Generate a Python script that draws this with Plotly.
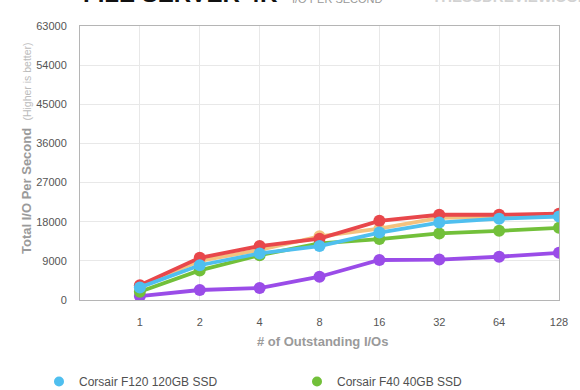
import plotly.graph_objects as go

categories = ["1", "2", "4", "8", "16", "32", "64", "128"]

f120_120gb = [2900, 8000, 10700, 12400, 15500, 17800, 18700, 19200]
f40_40gb = [1900, 6800, 10300, 13000, 14000, 15300, 15900, 16600]
orange_drive = [3200, 9000, 11500, 14650, 16400, 18900, 19100, 19300]
red_drive = [3400, 9700, 12400, 14100, 18200, 19600, 19600, 19850]
purple_drive = [900, 2300, 2750, 5350, 9200, 9300, 9950, 10850]

y_ticks = [0, 9000, 18000, 27000, 36000, 45000, 54000, 63000]

BLUE = "#4fbfef"
GREEN = "#72c03a"
ORANGE = "#f3c27f"
RED = "#e8474b"
PURPLE = "#9a4ce8"

fig = go.Figure()

def add_series(name, values, color):
    fig.add_trace(go.Scatter(
        x=categories, y=values, name=name, mode="lines+markers",
        line=dict(color=color, width=3.8),
        marker=dict(color=color, size=12),
        showlegend=False, hoverinfo="x+y+name",
    ))

add_series("Intel X25-M G2 160GB SSD", purple_drive, PURPLE)
add_series("Corsair F40 40GB SSD", f40_40gb, GREEN)
add_series("OCZ Vertex 2 120GB SSD", orange_drive, ORANGE)
add_series("Corsair F60 60GB SSD", red_drive, RED)
add_series("Corsair F120 120GB SSD", f120_120gb, BLUE)

# legend-only entries (dots), one per legend box
for name, color, lg in [("Corsair F120 120GB SSD", BLUE, "legend"),
                        ("Corsair F40 40GB SSD", GREEN, "legend2")]:
    fig.add_trace(go.Scatter(
        x=[None], y=[None], name=name, mode="markers",
        marker=dict(color=color, size=10), showlegend=True, legend=lg,
    ))

axis_font = dict(family="Liberation Sans, Arial, sans-serif", size=11, color="#555")
legend_font = dict(family="Liberation Sans, Arial, sans-serif", size=12, color="#505050")

W, H = 580, 390
L, R, T, B = 80, 21, 26, 90
pw, ph = W - L - R, H - T - B

def legend_box(px):
    return dict(
        orientation="h", xref="container", yref="container",
        x=px / W, xanchor="left", y=1 - 367 / H, yanchor="top",
        font=legend_font, itemclick=False, bgcolor="rgba(0,0,0,0)",
    )

fig.update_layout(
    width=W, height=H,
    margin=dict(l=L, r=R, t=T, b=B, autoexpand=False),
    paper_bgcolor="white", plot_bgcolor="white",
    font=dict(family="Liberation Sans, Arial, sans-serif", color="#555"),
    xaxis=dict(
        type="category", categoryorder="array", categoryarray=categories,
        range=[-1, 7], showgrid=True, gridcolor="#e8e8e8", gridwidth=1,
        showline=True, linecolor="#b5b5b5", linewidth=1, mirror=True,
        tickfont=axis_font, ticks="", ticklabelstandoff=12, zeroline=False,
        automargin=False,
    ),
    yaxis=dict(
        range=[0, 63000], tickvals=y_ticks, ticktext=[str(v) for v in y_ticks],
        showgrid=True, gridcolor="#e8e8e8", gridwidth=1,
        showline=True, linecolor="#b5b5b5", linewidth=1, mirror=True,
        tickfont=axis_font, ticks="", ticklabelstandoff=10, zeroline=False,
        automargin=False,
    ),
    showlegend=True,
    legend=legend_box(39),
    legend2=legend_box(297),
)

annos = [
    dict(text="<b>FILE SERVER 4K</b>", x=81, y=1.062, xref="paper", yref="paper",
         xanchor="left", yanchor="bottom",
         font=dict(family="Liberation Sans, Arial, sans-serif", size=24, color="#111")),
    dict(text="I/O PER SECOND", x=290, y=1.068, xref="paper", yref="paper",
         xanchor="left", yanchor="bottom",
         font=dict(family="Liberation Sans, Arial, sans-serif", size=11, color="#999")),
    dict(text="<b>THESSDREVIEW.COM</b>", x=430, y=1.068, xref="paper", yref="paper",
         xanchor="left", yanchor="bottom",
         font=dict(family="Liberation Sans, Arial, sans-serif", size=15, color="#d2d2d2")),
    dict(text="<b>Total I/O Per Second</b>  <span style='font-size:10.5px;color:#bbb'>(Higher is better)</span>",
         x=26, y=148, textangle=-90,
         font=dict(family="Liberation Sans, Arial, sans-serif", size=13, color="#9a9a9a")),
    dict(text="<b># of Outstanding I/Os</b>", x=322, y=341,
         font=dict(family="Liberation Sans, Arial, sans-serif", size=13, color="#9a9a9a")),
]

for a in annos:
    if a.get("xref") == "paper":
        a["x"] = (a["x"] - L) / pw
    else:
        a["xref"] = "paper"; a["yref"] = "paper"
        a["x"] = (a["x"] - L) / pw
        a["y"] = 1 - (a["y"] - T) / ph
        a["xanchor"] = "center"; a["yanchor"] = "middle"
    a["showarrow"] = False
    fig.add_annotation(**a)

fig.write_html("out.html", config={"displayModeBar": False},
               post_script="document.body.style.margin='0';")
